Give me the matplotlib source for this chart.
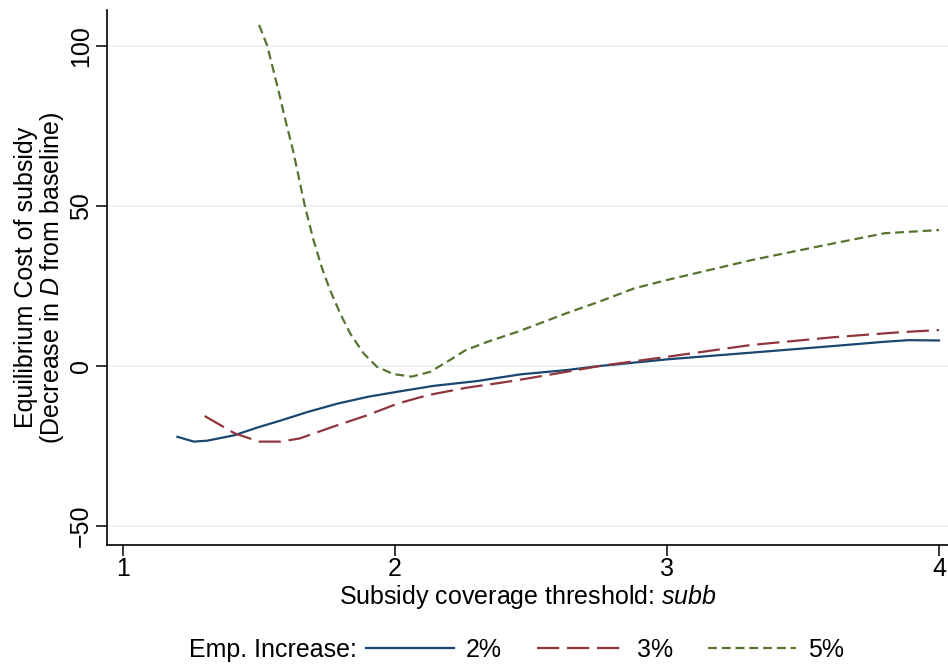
import matplotlib
matplotlib.use("Agg")
import matplotlib.pyplot as plt
from matplotlib import font_manager
from matplotlib.lines import Line2D

# Series: equilibrium cost of subsidy vs. subsidy coverage threshold
x_2 = [1.20, 1.26, 1.31, 1.41, 1.49, 1.58, 1.68, 1.79, 1.90, 2.01, 2.14, 2.30,
       2.46, 2.63, 2.75, 3.00, 3.31, 3.61, 3.80, 3.89, 4.00]
y_2 = [-22.1, -23.6, -23.3, -21.6, -19.3, -17.0, -14.3, -11.7, -9.6, -8.0, -6.2, -4.7,
       -2.6, -1.25, 0.0, 2.1, 4.2, 6.25, 7.6, 8.1, 8.0]

x_3 = [1.30, 1.41, 1.50, 1.58, 1.65, 1.77, 1.90, 2.01, 2.12, 2.26, 2.39, 2.45,
       2.63, 2.75, 3.00, 3.31, 3.61, 3.86, 4.00]
y_3 = [-15.6, -21.0, -23.6, -23.6, -22.6, -19.0, -15.3, -11.7, -9.1, -6.8, -5.2, -4.4,
       -1.8, 0.0, 2.9, 6.6, 9.0, 10.6, 11.25]

x_5 = [1.50, 1.53, 1.565, 1.60, 1.626, 1.669, 1.70, 1.73, 1.761, 1.798, 1.835, 1.884,
       1.933, 1.994, 2.061, 2.129, 2.202, 2.26, 2.34, 2.45, 2.63, 2.75, 2.88, 3.00,
       3.31, 3.61, 3.80, 4.00]
y_5 = [106.6, 100.1, 88.3, 75.8, 67.0, 49.8, 39.4, 31.0, 23.75, 16.5, 10.2, 4.0,
       -0.2, -2.5, -3.3, -1.8, 1.9, 5.0, 7.6, 10.7, 16.5, 20.1, 24.3, 26.9,
       33.1, 38.3, 41.5, 42.5]

series_labels = ["2%", "3%", "5%"]
x_ticks = [1, 2, 3, 4]
y_ticks = [-50, 0, 50, 100]

names = {f.name for f in font_manager.fontManager.ttflist}
family = "Liberation Sans Narrow" if "Liberation Sans Narrow" in names else "Liberation Sans"
plt.rcParams["font.family"] = [family, "DejaVu Sans"]
plt.rcParams["mathtext.fontset"] = "custom"
plt.rcParams["mathtext.it"] = f"{family}:italic"
plt.rcParams["mathtext.rm"] = family

FS = 18
LW = 1.6
navy = "#1a476f"
maroon = "#90353b"
green = "#55752f"
grid_c = "#eaf2f3"
dash_3 = (10, 3.5)
dash_5 = (4.0, 2.2)

fig = plt.figure(figsize=(9.48, 6.66), dpi=100)
ax = fig.add_axes([107 / 948, 1 - 545 / 666, 1 - 107 / 948, (545 - 10) / 666])

ax.set_xlim(0.941, 4.033)
ax.set_ylim(-55.9, 111.25)

for yt in y_ticks:
    ax.axhline(yt, color=grid_c, lw=1.3, zorder=0)

ax.plot(x_2, y_2, color=navy, lw=LW)
ax.plot(x_3, y_3, color=maroon, lw=LW, dashes=dash_3)
ax.plot(x_5, y_5, color=green, lw=LW, dashes=dash_5)

for s in ["top", "right"]:
    ax.spines[s].set_visible(False)
for s in ["left", "bottom"]:
    ax.spines[s].set_linewidth(1.2)

ax.set_xticks(x_ticks)
ax.set_yticks(y_ticks)
ax.set_yticklabels(["\u221250", "0", "50", "100"], rotation=90, va="center")
ax.tick_params(axis="both", direction="out", length=8, width=1.1, labelsize=FS)
ax.tick_params(axis="y", pad=2)
ax.tick_params(axis="x", pad=1)

ax.set_xlabel(r"Subsidy coverage threshold: $\mathit{subb}$", fontsize=FS, labelpad=1)
ax.set_ylabel("Equilibrium Cost of subsidy\n" + r"(Decrease in $\mathit{D}$ from baseline)",
              fontsize=FS, labelpad=2, linespacing=1.0)

handles = [
    Line2D([], [], color=navy, lw=LW),
    Line2D([], [], color=maroon, lw=LW, dashes=dash_3),
    Line2D([], [], color=green, lw=LW, dashes=dash_5),
]
fig.legend(handles, series_labels, ncol=3, frameon=False, fontsize=FS,
           loc="center left", bbox_to_anchor=(366 / 948, 1 - 650 / 666),
           handlelength=3.5, handletextpad=0.5, columnspacing=1.4, borderpad=0,
           borderaxespad=0)
fig.text(357 / 948, 1 - 650 / 666, "Emp. Increase:", fontsize=FS, ha="right", va="center")

fig.savefig("out.png", dpi=100)
